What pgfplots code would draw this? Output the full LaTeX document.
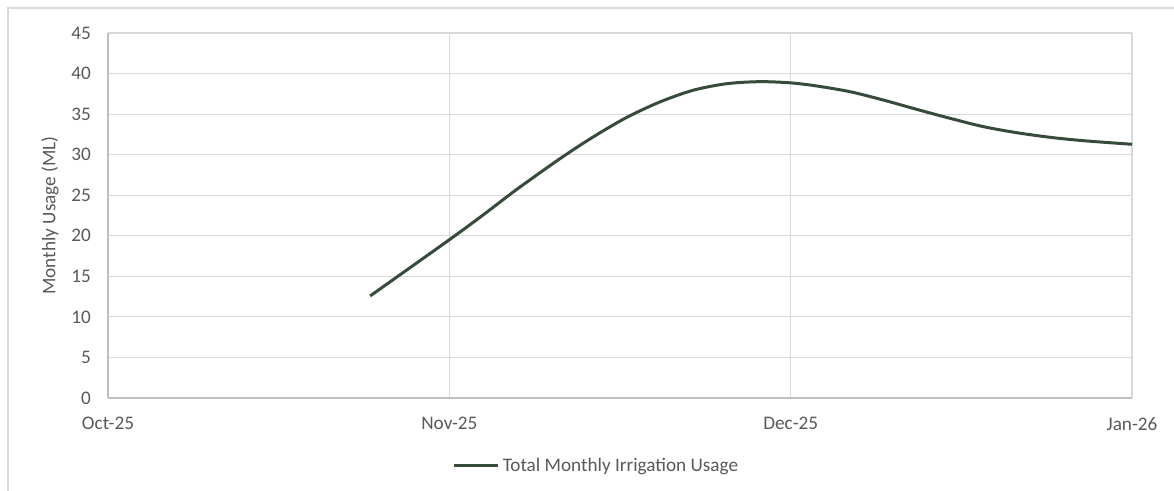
\documentclass[border=0pt]{standalone}
\usepackage{fontspec}
\setmainfont{Carlito}
\usepackage{pgfplots}
\pgfplotsset{compat=1.18}
\definecolor{txtgray}{HTML}{595959}
\definecolor{gridgray}{HTML}{D9D9D9}
\definecolor{axisgray}{HTML}{BFBFBF}
\definecolor{usagegreen}{HTML}{374B3A}

\begin{document}
\begin{tikzpicture}
  \useasboundingbox (0,0) rectangle (587pt,245.5pt);
  % chart area frame (only left and top edges are in the picture)
  \draw[gridgray,line width=0.6pt] (4pt,-1pt) -- (4pt,241.5pt) -- (588pt,241.5pt);

  \begin{axis}[
    at={(54pt,46.5pt)}, anchor=south west,
    scale only axis,
    width=512pt, height=182.5pt,
    xmin=0, xmax=3, ymin=0, ymax=45,
    xtick={0,1,2,3},
    xticklabels={Oct-25,Nov-25,Dec-25,Jan-26},
    ytick={0,5,...,45},
    major tick length=0pt,
    axis x line*=bottom, axis y line*=left,
    axis line style={axisgray,line width=0.6pt,-},
    grid=major,
    major grid style={gridgray,line width=0.6pt},
    tick label style={font=\fontsize{9.6}{11}\selectfont,text=txtgray},
    /pgf/number format/assume math mode=true,
    xticklabel style={yshift=-6pt},
    yticklabel style={xshift=-5pt},
    ylabel={Monthly Usage (ML)},
    label style={font=\fontsize{9.6}{11}\selectfont,text=txtgray},
    ylabel style={at={(axis description cs:-0.0566,0.5)}, anchor=center},
    legend style={at={(0.4775,-0.186)}, anchor=center, draw=none, fill=none,
      font=\fontsize{9.6}{11}\selectfont, text=txtgray, inner sep=0pt,
      nodes={inner xsep=1.5pt}},
    legend image code/.code={\draw[#1] (0pt,0pt) -- (22pt,0pt);},
    clip=false]

    \addplot[usagegreen, line width=1.5pt, smooth] coordinates {
      (0.768,12.58) (0.999,19.48) (1.100,22.6) (1.197,25.7)
      (1.324,29.5) (1.422,32.2) (1.520,34.6) (1.617,36.5)
      (1.715,37.95) (1.813,38.75) (1.910,39.0) (2.000,38.85)
      (2.076,38.47) (2.174,37.76) (2.271,36.74) (2.369,35.59)
      (2.467,34.48) (2.565,33.45) (2.662,32.71) (2.760,32.14)
      (2.858,31.72) (3.000,31.28)};
    \addlegendentry{Total Monthly Irrigation Usage}
  \end{axis}
\end{tikzpicture}
\end{document}
